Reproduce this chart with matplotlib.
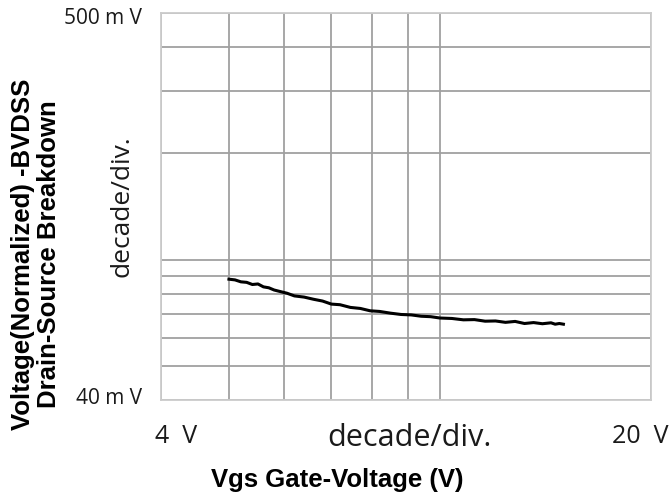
import matplotlib
matplotlib.use("Agg")
import matplotlib.pyplot as plt
from matplotlib import font_manager

# Vgs (V) vs normalized breakdown voltage (mV)
vgs = [5.0, 5.1, 5.2, 5.3, 5.4, 5.5, 5.6, 5.7, 5.8, 5.9, 6.05, 6.2, 6.4, 6.6,
       6.8, 7.0, 7.2, 7.45, 7.7, 7.95, 8.2, 8.5, 8.8, 9.1, 9.4, 9.7, 10.0,
       10.4, 10.8, 11.2, 11.6, 12.0, 12.4, 12.8, 13.2, 13.6, 14.0, 14.4,
       14.6, 14.8, 15.0]
bvdss = [88.0, 87.6, 86.5, 86.2, 85.0, 85.3, 83.7, 83.2, 82.0, 81.3, 80.3,
         78.9, 78.3, 77.2, 76.3, 74.8, 74.5, 73.2, 72.7, 71.6, 71.3, 70.5,
         69.9, 69.7, 69.1, 68.9, 68.3, 68.1, 67.5, 67.6, 66.9, 67.0, 66.4,
         66.8, 65.9, 66.3, 65.8, 66.2, 65.6, 65.9, 65.6]

x_min, x_max = 4, 20
y_min, y_max = 40, 500

names = {f.name for f in font_manager.fontManager.ttflist}
if "Liberation Sans Narrow" in names:
    bold_font, bold_size = "Liberation Sans Narrow", 22
else:
    bold_font, bold_size = "Liberation Sans", 18.5

fig = plt.figure(figsize=(6.7, 4.98), dpi=100)
ax = fig.add_axes([161/670, 98/498, 490/670, 387/498])

ax.plot(vgs, bvdss, color="black", linewidth=2.2)

ax.set_xscale("log")
ax.set_yscale("log")
ax.set_xlim(x_min, x_max)
ax.set_ylim(y_min, y_max)

ax.grid(True, which="both", color="#a0a0a0", linewidth=1.3)
ax.tick_params(which="both", length=0, labelbottom=False, labelleft=False)
for s in ax.spines.values():
    s.set_color("#cccccc")
    s.set_linewidth(1.3)

# axis end labels
lab = dict(family="Open Sans", color="#1a1a1a", transform=ax.transAxes)
ax.text(-0.039, 0.985, "500 m V", ha="right", va="center", fontsize=15, **lab)
ax.text(-0.039, 0.003, "40 m V", ha="right", va="center", fontsize=15, **lab)
ax.text(0.031, -0.095, "4  V", ha="center", va="center", fontsize=18, **lab)
ax.text(0.978, -0.095, "20  V", ha="center", va="center", fontsize=18, **lab)
ax.text(0.506, -0.097, "decade/div.", ha="center", va="center", fontsize=22, **lab)
ax.text(-0.08, 0.50, "decade/div.", ha="center", va="center", rotation=90,
        fontsize=19, **lab)

fig.text(337/670, 1 - 480/498, "Vgs Gate-Voltage (V)", ha="center", va="center",
         family=bold_font, fontsize=bold_size, fontweight="bold")
fig.text(36/670, 1 - 254/498, "Voltage(Normalized) -BVDSS\nDrain-Source Breakdown",
         ha="center", va="center", rotation=90, multialignment="center",
         family=bold_font, fontsize=bold_size, fontweight="bold", linespacing=1.12)

fig.savefig("out.png", dpi=100)
